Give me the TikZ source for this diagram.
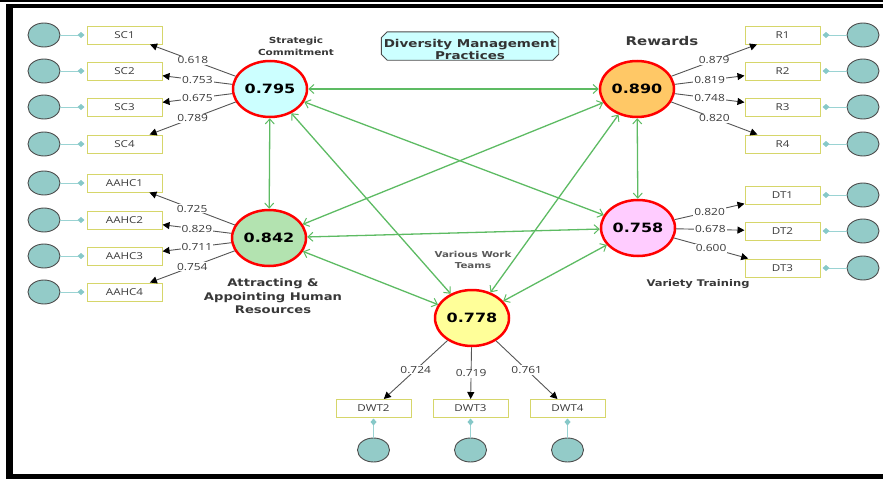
\documentclass[tikz,border=0pt]{standalone}
\usepackage{fontspec}
\setmainfont{Open Sans}[FakeStretch=1.22]
\newfontfamily\valfont{DejaVu Sans}[FakeStretch=1.25]
\usetikzlibrary{arrows.meta,shapes.geometric}
\definecolor{indfill}{HTML}{93CBC8}
\definecolor{indline}{HTML}{4D4D4D}
\definecolor{boxline}{HTML}{D6D66A}
\definecolor{linkc}{HTML}{9AD3D3}
\definecolor{diamc}{HTML}{86C8C8}
\definecolor{corrc}{HTML}{5DBB63}
\definecolor{loadc}{HTML}{555555}
\definecolor{lblc}{HTML}{3A3A3A}
\definecolor{scfill}{HTML}{CCFFFF}
\definecolor{aafill}{HTML}{B3E3B0}
\definecolor{rwfill}{HTML}{FFC866}
\definecolor{vtfill}{HTML}{FFCCFF}
\definecolor{dwfill}{HTML}{FFFF99}
\definecolor{titfill}{HTML}{CCFFFF}
\tikzset{
  ind/.style={ellipse, draw=indline, line width=0.9pt, fill=indfill, minimum width=32pt, minimum height=24pt, inner sep=0pt},
  mbox/.style={rectangle, draw=boxline, line width=1pt, fill=white, minimum width=75pt, minimum height=18pt, inner sep=0pt, text=lblc, font=\fontsize{9.5}{11}\selectfont},
  lat/.style={ellipse, draw=red, line width=2.5pt, minimum width=74pt, minimum height=56pt, inner sep=0pt, font=\valfont\bfseries\fontsize{12.8}{14}\selectfont},
  corr/.style={draw=corrc, line width=1.3pt, {Straight Barb[length=5pt,width=9pt,line width=1pt]}-{Straight Barb[length=5pt,width=9pt,line width=1pt]}},
  load/.style={draw=loadc, line width=0.9pt, -{Triangle[length=7pt,width=7pt,color=black]}},
  loadlbl/.style={fill=white, inner sep=1pt, text=lblc, font=\fontsize{9.8}{11}\selectfont},
  linkline/.style={draw=linkc, line width=1pt, -{Diamond[length=7pt,width=6pt,color=diamc]}, shorten >=2pt},
  conlbl/.style={align=center, text=black!78, font=\valfont\bfseries},
}
\begin{document}
\begin{tikzpicture}[x=1pt,y=-1pt]
\useasboundingbox (0,0) rectangle (883,479);
% frame
\fill[black] (0,0) rectangle (883,1.6);
\fill[black] (6,4) rectangle (883,8);
\fill[black] (6,4) rectangle (12.5,479);
\fill[black] (6,473.5) rectangle (883,479);

% title
\node[minimum width=177pt, minimum height=28pt, inner sep=0pt] (title) at (470,46) {};
\draw[draw=black!70, line width=0.9pt, fill=titfill]
  ([xshift=6pt]title.north west) -- ([xshift=-6pt]title.north east)
  -- ([yshift=-6pt]title.north east) -- ([yshift=6pt]title.south east)
  -- ([xshift=-6pt]title.south east) -- ([xshift=6pt]title.south west)
  -- ([yshift=6pt]title.south west) -- ([yshift=-6pt]title.north west) -- cycle;
\node[align=center, text=black!80, font=\valfont\bfseries\fontsize{10.8}{12.5}\selectfont] (titletext) at (470,49.5) {Diversity Management\\Practices};

% latent constructs
\node[lat, fill=scfill] (SC) at (270,89) {0.795};
\node[lat, fill=aafill] (AA) at (269,238) {0.842};
\node[lat, fill=rwfill] (RW) at (637,89) {0.890};
\node[lat, fill=vtfill] (VT) at (638,228) {0.758};
\node[lat, fill=dwfill] (DW) at (472,318) {0.778};

% construct labels
\node[conlbl, font=\valfont\bfseries\fontsize{8.4}{12.5}\selectfont] (SCl) at (296,46.5) {Strategic\\Commitment};
\node[conlbl, font=\valfont\bfseries\fontsize{12}{14}\selectfont] (RWl) at (662,41) {Rewards};
\node[conlbl, font=\valfont\bfseries\fontsize{10.5}{13.5}\selectfont] (AAl) at (273,296.5) {Attracting \&\\Appointing Human\\Resources};
\node[conlbl, font=\valfont\bfseries\fontsize{9.2}{10}\selectfont] (VTl) at (698,284) {Variety Training};
\node[conlbl, text=black!65, font=\valfont\bfseries\fontsize{8.2}{11}\selectfont] (DWl) at (473,259.5) {Various Work\\Teams};

% structural correlations
\draw[corr] (SC) -- (RW);
\draw[corr] (SC) -- (AA);
\draw[corr] (SC) -- (VT);
\draw[corr] (SC) -- (DW);
\draw[corr] (AA) -- (RW);
\draw[corr] (AA) -- (VT);
\draw[corr] (AA) -- (DW);
\draw[corr] (RW) -- (VT);
\draw[corr] (RW) -- (DW);
\draw[corr] (VT) -- (DW);

% left indicators: SC
\foreach \n/\y/\v in {1/35/0.618, 2/71/0.753, 3/107/0.675, 4/144/0.789}{
  \node[mbox] (SC\n) at (124.5,\y) {SC\n};
  \node[ind] (eSC\n) at (44,\y) {};
  \draw[linkline] (eSC\n) -- (SC\n);
  \draw[load] (SC) -- node[loadlbl]{\v} (SC\n);
}
% AAHC
\foreach \n/\y/\v in {1/183/0.725, 2/220/0.829, 3/256/0.711, 4/292/0.754}{
  \node[mbox] (AAHC\n) at (124.5,\y) {AAHC\n};
  \node[ind] (eAAHC\n) at (44,\y) {};
  \draw[linkline] (eAAHC\n) -- (AAHC\n);
  \draw[load] (AA) -- node[loadlbl]{\v} (AAHC\n);
}
% Rewards
\foreach \n/\y/\v in {1/35/0.879, 2/71/0.819, 3/107/0.748, 4/144/0.820}{
  \node[mbox] (R\n) at (782.5,\y) {R\n};
  \node[ind] (eR\n) at (863,\y) {};
  \draw[linkline] (eR\n) -- (R\n);
  \draw[load] (RW) -- node[loadlbl]{\v} (R\n);
}
% Variety training
\foreach \n/\y/\v in {1/195/0.820, 2/231/0.678, 3/268/0.600}{
  \node[mbox] (DT\n) at (782.5,\y) {DT\n};
  \node[ind] (eDT\n) at (863,\y) {};
  \draw[linkline] (eDT\n) -- (DT\n);
  \draw[load] (VT) -- node[loadlbl]{\v} (DT\n);
}
% Work teams
\foreach \n/\x/\v in {2/373.5/0.724, 3/470.5/0.719, 4/567.5/0.761}{
  \node[mbox] (DWT\n) at (\x,408.5) {DWT\n};
  \node[ind] (eDWT\n) at (\x,450) {};
  \draw[linkline, shorten >=0.5pt] (eDWT\n) -- (DWT\n);
  \draw[load] (DW) -- node[loadlbl]{\v} (DWT\n);
}
\end{tikzpicture}
\end{document}
